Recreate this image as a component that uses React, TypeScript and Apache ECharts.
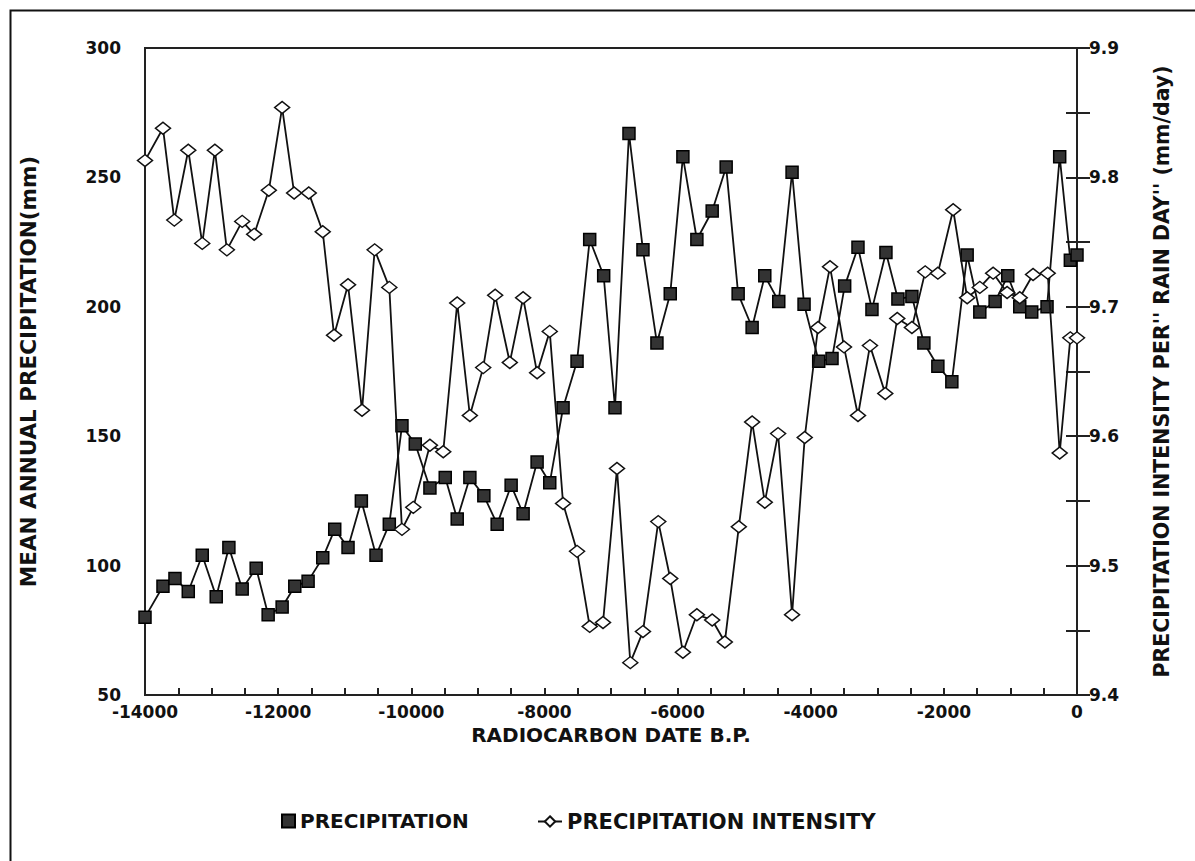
import React, { useEffect, useRef } from "react";
import * as echarts from "echarts";

// Radiocarbon date (years B.P.) and mean annual precipitation (mm)
const precipYears = [
  -14000, -13730, -13550, -13350, -13140, -12930, -12740, -12540, -12330, -12150,
  -11940, -11750, -11550, -11330, -11150, -10950, -10750, -10530, -10330, -10140,
  -9940, -9720, -9490, -9310, -9120, -8910, -8710, -8500, -8320, -8110,
  -7920, -7720, -7510, -7320, -7110, -6940, -6730, -6520, -6310, -6110,
  -5920, -5710, -5480, -5270, -5090, -4880, -4690, -4480, -4280, -4100,
  -3880, -3680, -3490, -3290, -3080, -2870, -2690, -2480, -2300, -2090,
  -1880, -1650, -1460, -1230, -1040, -860, -680, -450, -260, -100, 0,
];
const precipValues = [
  80, 92, 95, 90, 104, 88, 107, 91, 99, 81,
  84, 92, 94, 103, 114, 107, 125, 104, 116, 154,
  147, 130, 134, 118, 134, 127, 116, 131, 120, 140,
  132, 161, 179, 226, 212, 161, 267, 222, 186, 205,
  258, 226, 237, 254, 205, 192, 212, 202, 252, 201,
  179, 180, 208, 223, 199, 221, 203, 204, 186, 177,
  171, 220, 198, 202, 212, 200, 198, 200, 258, 218, 220,
];

// Radiocarbon date (years B.P.) and precipitation intensity per rain day (mm/day)
const intensityYears = [
  -14000, -13730, -13560, -13350, -13140, -12950, -12770, -12540, -12360, -12140,
  -11940, -11760, -11540, -11330, -11160, -10950, -10740, -10550, -10330, -10140,
  -9970, -9720, -9520, -9310, -9120, -8920, -8740, -8520, -8320, -8110,
  -7920, -7720, -7510, -7320, -7120, -6910, -6710, -6520, -6290, -6110,
  -5920, -5710, -5480, -5290, -5080, -4880, -4690, -4490, -4280, -4090,
  -3890, -3710, -3500, -3290, -3110, -2880, -2700, -2480, -2280, -2090,
  -1860, -1650, -1460, -1260, -1050, -860, -660, -440, -260, -100, 0,
];
const intensityValues = [
  9.813, 9.838, 9.767, 9.821, 9.749, 9.821, 9.744, 9.766, 9.756, 9.79,
  9.854, 9.788, 9.788, 9.758, 9.678, 9.717, 9.62, 9.744, 9.715, 9.528,
  9.545, 9.593, 9.588, 9.703, 9.616, 9.653, 9.709, 9.657, 9.707, 9.649,
  9.681, 9.548, 9.511, 9.453, 9.456, 9.575, 9.425, 9.449, 9.534, 9.49,
  9.433, 9.462, 9.458, 9.441, 9.53, 9.611, 9.549, 9.602, 9.462, 9.599,
  9.684, 9.731, 9.669, 9.616, 9.67, 9.633, 9.691, 9.684, 9.727, 9.726,
  9.775, 9.707, 9.715, 9.726, 9.711, 9.707, 9.725, 9.726, 9.587, 9.676, 9.676,
];

const FONT = "DejaVu Sans";

export default function App() {
  const ref = useRef<HTMLDivElement>(null);

  useEffect(() => {
    if (!ref.current) return;
    const chart = echarts.init(ref.current, undefined, { renderer: "svg" });

    const precipData = precipYears.map((x, i) => [x, precipValues[i]]);
    const intensityData = intensityYears.map((x, i) => [x, intensityValues[i]]);

    const labelStyle = {
      color: "#111",
      fontFamily: FONT,
      fontWeight: "bold" as const,
      fontSize: 17,
    };
    const nameStyle = {
      color: "#111",
      fontFamily: FONT,
      fontWeight: "bold" as const,
      fontSize: 20,
    };

    chart.setOption({
      animation: false,
      backgroundColor: "#fff",
      graphic: [
        {
          type: "rect",
          left: 8,
          top: 8,
          shape: { x: 0, y: 0, width: 1200, height: 900 },
          style: { fill: "none", stroke: "#111", lineWidth: 2 },
          silent: true,
        },
      ],
      grid: {
        left: 145,
        right: 118,
        top: 48,
        bottom: 166,
        show: true,
        borderColor: "#222",
        borderWidth: 2,
        backgroundColor: "transparent",
      },
      legend: [
        {
          data: [{ name: "PRECIPITATION", icon: "rect" }],
          left: 276,
          top: 806,
          itemWidth: 13,
          itemHeight: 13,
          itemGap: 10,
          textStyle: { ...nameStyle, fontSize: 20 },
        },
        {
          data: [{ name: "PRECIPITATION INTENSITY" }],
          left: 532,
          top: 806,
          itemWidth: 24,
          itemHeight: 13,
          textStyle: { ...nameStyle, fontSize: 21 },
        },
      ],
      xAxis: {
        type: "value",
        min: -14000,
        max: 0,
        interval: 2000,
        name: "RADIOCARBON DATE B.P.",
        nameLocation: "middle",
        nameGap: 28,
        nameTextStyle: nameStyle,
        axisLine: { show: true, lineStyle: { color: "#222", width: 2 } },
        axisTick: { show: true, inside: true, length: 7, lineStyle: { color: "#222", width: 2 } },
        minorTick: { show: true, splitNumber: 4, length: 7, lineStyle: { color: "#222", width: 2 } },
        splitLine: { show: false },
        axisLabel: { ...labelStyle, margin: 8, formatter: (v: number) => String(v) },
      },
      yAxis: [
        {
          type: "value",
          min: 50,
          max: 300,
          interval: 50,
          name: "MEAN ANNUAL PRECIPITATION(mm)",
          nameLocation: "middle",
          nameRotate: 90,
          nameGap: 106,
          nameTextStyle: { ...nameStyle, fontSize: 21.5 },
          axisLine: { show: true, lineStyle: { color: "#222", width: 2 } },
          axisTick: { show: true, inside: true, length: 13, lineStyle: { color: "#222", width: 2 } },
          minorTick: { show: true, splitNumber: 2, length: 13, lineStyle: { color: "#222", width: 2 } },
          splitLine: { show: false },
          axisLabel: { ...labelStyle, margin: 24 },
        },
        {
          type: "value",
          min: 9.4,
          max: 9.9,
          interval: 0.1,
          position: "right",
          name: "PRECIPITATION INTENSITY PER'' RAIN DAY'' (mm/day)",
          nameLocation: "middle",
          nameRotate: 90,
          nameGap: 74,
          nameTextStyle: { ...nameStyle, fontSize: 20.5 },
          axisLine: { show: true, lineStyle: { color: "#222", width: 2 } },
          axisTick: { show: true, inside: true, length: 11, lineStyle: { color: "#222", width: 2 } },
          minorTick: { show: true, splitNumber: 2, length: 11, lineStyle: { color: "#222", width: 2 } },
          splitLine: { show: false },
          axisLabel: {
            ...labelStyle,
            margin: 12,
            formatter: (v: number) => v.toFixed(1),
          },
        },
      ],
      series: [
        {
          name: "PRECIPITATION",
          type: "line",
          yAxisIndex: 0,
          data: precipData,
          symbol: "rect",
          symbolSize: 12,
          showAllSymbol: true,
          lineStyle: { color: "#111", width: 1.8 },
          itemStyle: { color: "#333", borderColor: "#000", borderWidth: 1.5 },
          z: 3,
        },
        {
          name: "PRECIPITATION INTENSITY",
          type: "line",
          yAxisIndex: 1,
          data: intensityData,
          symbol: "diamond",
          symbolSize: [15, 12],
          showAllSymbol: true,
          lineStyle: { color: "#111", width: 1.8 },
          itemStyle: { color: "#fff", borderColor: "#111", borderWidth: 1.5 },
          z: 4,
        },
      ],
    });

    return () => chart.dispose();
  }, []);

  return (
    <div
      ref={ref}
      style={{ position: "absolute", left: 0, top: 0, width: 1195, height: 861 }}
    />
  );
}
